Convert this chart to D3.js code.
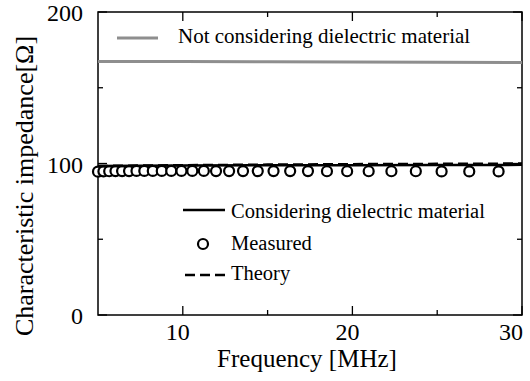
<!DOCTYPE html>
<html>
<head>
<meta charset="utf-8">
<script src="https://cdn.jsdelivr.net/npm/d3@7"></script>
<style>
  body { margin: 0; background: white; }
  svg { display: block; font-family: "Liberation Serif", "Times New Roman", "DejaVu Serif", serif; }
</style>
</head>
<body>
<svg width="530" height="381"></svg>
<script>
// measured points
var measFreq = [5.00, 5.32, 5.66, 6.03, 6.42, 6.83, 7.27, 7.73, 8.23, 8.76, 9.32, 9.92,
  10.56, 11.24, 11.96, 12.73, 13.55, 14.42, 15.35, 16.33, 17.38, 18.50, 19.69, 20.96,
  22.30, 23.74, 25.26, 26.89, 28.62];
var measZ = [94.6, 94.8, 94.9, 95.0, 95.0, 95.0, 95.1, 95.1, 95.1, 95.1, 95.1, 95.1,
  95.1, 95.1, 95.0, 95.0, 95.0, 95.0, 95.0, 95.0, 95.0, 94.9, 94.9, 94.9,
  94.9, 94.9, 94.8, 94.8, 94.8];

var lineFreq = [5, 10, 15, 20, 25, 30];
var consideringZ = [98.3, 98.6, 98.8, 98.9, 99.0, 99.1];
var theoryZ = [98.4, 98.9, 99.3, 99.6, 99.8, 100.0];
var notConsideringZ = [167.4, 167.3, 167.1, 167.0, 166.8, 166.7];

var xTicks = [10, 20, 30];
var xMinor = [15, 25];
var yTicks = [0, 100, 200];
var yMinor = [50, 150];

var margin = {top: 12, right: 8, bottom: 66, left: 98},
    width = 530 - margin.left - margin.right,
    height = 381 - margin.top - margin.bottom;

var svg = d3.select('svg');
var g = svg.append('g').attr('transform', 'translate(' + margin.left + ',' + margin.top + ')');

var x = d3.scaleLinear().domain([5, 30]).range([0, width]);
var y = d3.scaleLinear().domain([0, 200]).range([height, 0]);

// frame
g.append('rect')
  .attr('width', width).attr('height', height)
  .attr('fill', 'none').attr('stroke', 'black').attr('stroke-width', 1.5);

// inward ticks on all four sides
function ticks(vals, len) {
  vals.forEach(function(v) {
    g.append('line').attr('x1', x(v)).attr('x2', x(v)).attr('y1', height).attr('y2', height - len)
      .attr('stroke', 'black').attr('stroke-width', 1.3);
    g.append('line').attr('x1', x(v)).attr('x2', x(v)).attr('y1', 0).attr('y2', len)
      .attr('stroke', 'black').attr('stroke-width', 1.3);
  });
}
function yticks(vals, len) {
  vals.forEach(function(v) {
    g.append('line').attr('y1', y(v)).attr('y2', y(v)).attr('x1', 0).attr('x2', len)
      .attr('stroke', 'black').attr('stroke-width', 1.3);
    g.append('line').attr('y1', y(v)).attr('y2', y(v)).attr('x1', width).attr('x2', width - len)
      .attr('stroke', 'black').attr('stroke-width', 1.3);
  });
}
ticks(xTicks, 9);
ticks(xMinor, 5);
yticks(yTicks, 9);
yticks(yMinor, 5);

// tick labels
g.selectAll('.xl').data(xTicks).enter().append('text')
  .attr('x', function(d) { return Math.min(x(d) - 5, width - 11); })
  .attr('y', height + 25)
  .attr('text-anchor', 'middle')
  .attr('font-size', 24)
  .text(function(d) { return d; });

g.selectAll('.yl').data(yTicks).enter().append('text')
  .attr('x', -15)
  .attr('y', function(d) { return y(d) + 9; })
  .attr('text-anchor', 'end')
  .attr('font-size', 24)
  .text(function(d) { return d; });

// axis titles
svg.append('text')
  .attr('x', 307)
  .attr('y', 367)
  .attr('text-anchor', 'middle')
  .attr('font-size', 25)
  .text('Frequency [MHz]');

svg.append('text')
  .attr('transform', 'translate(33,186) rotate(-90)')
  .attr('text-anchor', 'middle')
  .attr('font-size', 26)
  .text('Characteristic impedance[\u03A9]');

var line = d3.line()
  .x(function(d) { return x(d[0]); })
  .y(function(d) { return y(d[1]); });

// not considering (gray)
g.append('path')
  .datum(d3.zip(lineFreq, notConsideringZ))
  .attr('d', line).attr('fill', 'none')
  .attr('stroke', '#8e8e8e').attr('stroke-width', 3);

// measured circles
g.selectAll('.m').data(d3.zip(measFreq, measZ)).enter().append('circle')
  .attr('cx', function(d) { return x(d[0]); })
  .attr('cy', function(d) { return y(d[1]); })
  .attr('r', 5)
  .attr('fill', 'white')
  .attr('stroke', 'black').attr('stroke-width', 2.2);

// considering (solid)
g.append('path')
  .datum(d3.zip(lineFreq, consideringZ))
  .attr('d', line).attr('fill', 'none')
  .attr('stroke', 'black').attr('stroke-width', 2.5);

// theory (dashed)
g.append('path')
  .datum(d3.zip(lineFreq, theoryZ))
  .attr('d', line).attr('fill', 'none')
  .attr('stroke', 'black').attr('stroke-width', 2.4)
  .attr('stroke-dasharray', '10,5');

// legends
svg.append('line').attr('x1', 117).attr('x2', 158).attr('y1', 38).attr('y2', 38)
  .attr('stroke', '#8e8e8e').attr('stroke-width', 3);
svg.append('text').attr('x', 178).attr('y', 43).attr('font-size', 21)
  .text('Not considering dielectric material');

svg.append('line').attr('x1', 183).attr('x2', 225).attr('y1', 210).attr('y2', 210)
  .attr('stroke', 'black').attr('stroke-width', 2.5);
svg.append('text').attr('x', 231).attr('y', 218).attr('font-size', 20.5)
  .text('Considering dielectric material');

svg.append('circle').attr('cx', 203).attr('cy', 244).attr('r', 5)
  .attr('fill', 'white').attr('stroke', 'black').attr('stroke-width', 2.2);
svg.append('text').attr('x', 231).attr('y', 250).attr('font-size', 20.5)
  .text('Measured');

svg.append('line').attr('x1', 185).attr('x2', 225).attr('y1', 275).attr('y2', 275)
  .attr('stroke', 'black').attr('stroke-width', 2.4).attr('stroke-dasharray', '10,5');
svg.append('text').attr('x', 231).attr('y', 280).attr('font-size', 20.5)
  .text('Theory');
</script>
</body>
</html>
